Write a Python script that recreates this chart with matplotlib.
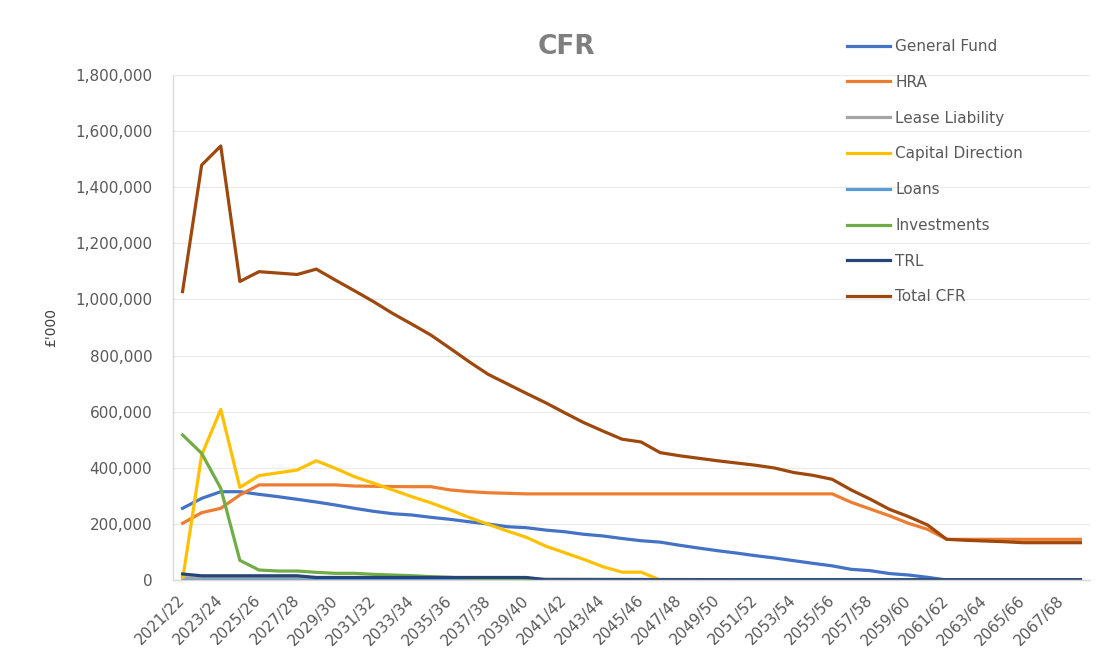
import matplotlib
matplotlib.use("Agg")
import matplotlib.pyplot as plt
from matplotlib.ticker import FuncFormatter, MultipleLocator

years = ["2021/22", "2022/23", "2023/24", "2024/25", "2025/26", "2026/27", "2027/28", "2028/29",
         "2029/30", "2030/31", "2031/32", "2032/33", "2033/34", "2034/35", "2035/36", "2036/37",
         "2037/38", "2038/39", "2039/40", "2040/41", "2041/42", "2042/43", "2043/44", "2044/45",
         "2045/46", "2046/47", "2047/48", "2048/49", "2049/50", "2050/51", "2051/52", "2052/53",
         "2053/54", "2054/55", "2055/56", "2056/57", "2057/58", "2058/59", "2059/60", "2060/61",
         "2061/62", "2062/63", "2063/64", "2064/65", "2065/66", "2066/67", "2067/68", "2068/69"]

general_fund = [255500, 291000, 314700, 314700, 305400, 297000, 287600, 278000, 267300, 255500,
                244800, 236300, 231700, 223400, 216300, 207500, 199600, 190000, 186400, 178000,
                172000, 163000, 157000, 148000, 140000, 135000, 124000, 114000, 104500, 96000,
                86600, 78400, 68800, 59400, 50500, 38000, 33300, 23000, 17800, 9500,
                0, 0, 0, 0, 0, 0, 0, 0]

hra = [202000, 240000, 255500, 303000, 339000, 339000, 339000, 339000, 339000, 335000,
       334000, 333000, 332600, 332600, 321000, 315000, 311000, 309000, 307000, 307000,
       307000, 307000, 307000, 307000, 307000, 307000, 307000, 307000, 307000, 307000,
       307000, 307000, 307000, 307000, 307000, 277000, 253000, 229000, 202000, 180600,
       145000, 145000, 145000, 145000, 145000, 145000, 145000, 145000]

lease_liability = [8000, 7700, 7400, 7000, 6800, 6500, 6200, 5900, 5600, 5300,
                   5000, 4800, 4600, 4400, 4200, 4000, 3800, 3600, 3400, 3200,
                   3000, 2800, 2600, 2400, 2200, 2000, 1800, 1600, 1400, 1000,
                   600, 0, 0, 0, 0, 0, 0, 0, 0, 0,
                   0, 0, 0, 0, 0, 0, 0, 0]

capital_direction = [0, 445000, 608000, 330000, 372000, 382000, 392000, 425000, 398000, 368000,
                     345000, 321000, 297000, 275000, 250000, 223000, 198500, 174600, 152000, 121000,
                     97400, 73600, 47500, 28000, 28000, 0, 0, 0, 0, 0,
                     0, 0, 0, 0, 0, 0, 0, 0, 0, 0,
                     0, 0, 0, 0, 0, 0, 0, 0]

loans = [0, 0, 0, 0, 0, 0, 0, 0, 0, 0,
         0, 0, 0, 0, 0, 0, 0, 0, 0, 0,
         0, 0, 0, 0, 0, 0, 0, 0, 0, 0,
         0, 0, 0, 0, 0, 0, 0, 0, 0, 0,
         0, 0, 0, 0, 0, 0, 0, 0]

investments = [517000, 451500, 327000, 70000, 35600, 32000, 32000, 27300, 23800, 23800,
               20200, 17800, 15400, 11900, 9500, 6000, 3500, 2500, 2000, 1000,
               0, 0, 0, 0, 0, 0, 0, 0, 0, 0,
               0, 0, 0, 0, 0, 0, 0, 0, 0, 0,
               0, 0, 0, 0, 0, 0, 0, 0]

trl = [21400, 15000, 15000, 15000, 15000, 15000, 15000, 9000, 9000, 9000,
       9000, 9000, 9000, 9000, 9000, 9000, 9000, 9000, 9000, 1000,
       1000, 1000, 1000, 1000, 1000, 1000, 1000, 1000, 1000, 1000,
       1000, 1000, 1000, 1000, 1000, 1000, 1000, 1000, 1000, 1000,
       1000, 1000, 1000, 1000, 1000, 1000, 1000, 1000]

total_cfr = [1028000, 1479000, 1547000, 1064000, 1099000, 1094000, 1089000, 1108000, 1069000, 1031000,
             992000, 950000, 912000, 873000, 826000, 778000, 733000, 699000, 665000, 632000,
             596000, 561000, 531000, 502000, 492000, 454000, 443000, 434000, 425000, 417000,
             409000, 399000, 383000, 373000, 359000, 321000, 288000, 252000, 226000, 196000,
             145000, 141500, 139000, 136500, 133000, 133000, 133000, 133000]

series_names = ["General Fund", "HRA", "Lease Liability", "Capital Direction",
                "Loans", "Investments", "TRL", "Total CFR"]
series_values = [general_fund, hra, lease_liability, capital_direction,
                 loans, investments, trl, total_cfr]
series_colors = ["#4472C4", "#ED7D31", "#A5A5A5", "#FFC000",
                 "#5B9BD5", "#70AD47", "#264478", "#9E480E"]

W, H = 1118, 659
fig = plt.figure(figsize=(W / 100, H / 100), dpi=100)
ax = fig.add_axes([173 / W, 1 - 580 / H, (1090 - 173) / W, (580 - 75) / H])

x = list(range(len(years)))
for name, vals, col in zip(series_names, series_values, series_colors):
    ax.plot(x, vals, color=col, linewidth=2.3, label=name, solid_joinstyle="round")

ax.set_xlim(-0.5, len(years) - 0.5)
ax.set_ylim(0, 1800000)
ax.yaxis.set_major_locator(MultipleLocator(200000))
ax.yaxis.set_major_formatter(FuncFormatter(lambda v, p: f"{int(v):,}"))
ax.grid(axis="y", color="#EBEBEB", linewidth=1)
ax.set_axisbelow(True)

ax.set_xticks(x[::2])
ax.set_xticklabels(years[::2], rotation=45, ha="right", va="center",
                   rotation_mode="anchor")
ax.tick_params(axis="both", length=0, labelsize=11, labelcolor="#595959")
ax.tick_params(axis="x", pad=13)
ax.tick_params(axis="y", pad=15)

for s in ["top", "right"]:
    ax.spines[s].set_visible(False)
for s in ["left", "bottom"]:
    ax.spines[s].set_color("#D9D9D9")
    ax.spines[s].set_linewidth(1)

ax.set_ylabel("£'000", fontsize=10, color="#404040")
ax.yaxis.set_label_coords(-115 / (1090 - 173), 0.5)

fig.text(566 / W, 1 - 47 / H, "CFR", fontsize=19, fontweight="bold", color="#7F7F7F",
         ha="center", va="center")

leg = ax.legend(loc="upper left", bbox_to_anchor=(847 / W, 1 - 39 / H),
                bbox_transform=fig.transFigure, frameon=False, fontsize=11,
                handlelength=2.8, handletextpad=0.35, labelspacing=1.36,
                borderpad=0, borderaxespad=0)
for t in leg.get_texts():
    t.set_color("#595959")

fig.savefig("out.png", dpi=100)
